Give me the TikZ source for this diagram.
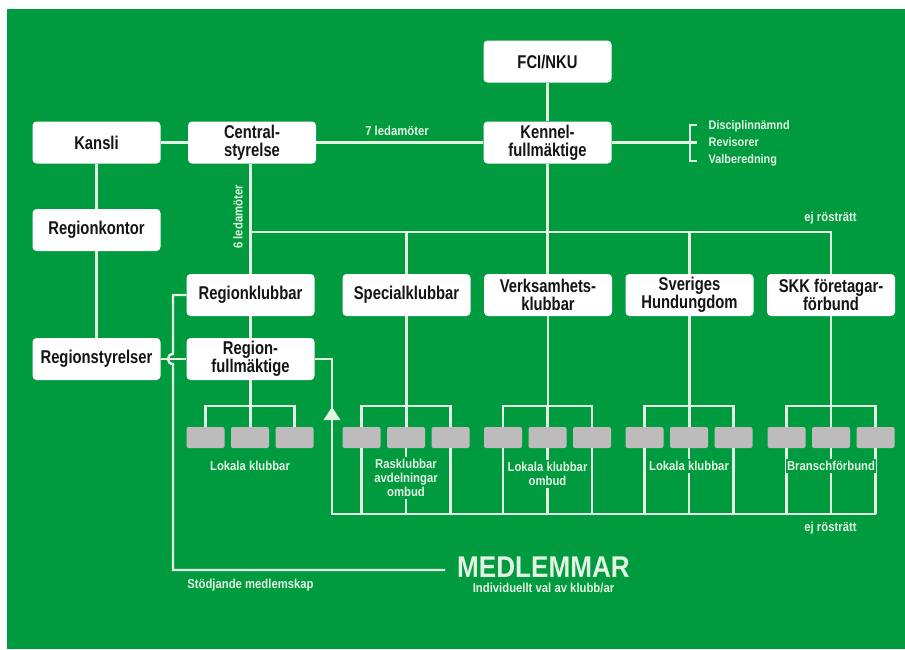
\documentclass[tikz,border=0pt]{standalone}
\usepackage{fontspec}
\setmainfont{Liberation Sans}[FakeStretch=0.87]
\newfontfamily\boxfont{Liberation Sans}[FakeStretch=0.80]
\definecolor{bg}{RGB}{0,155,62}
\definecolor{ln}{RGB}{228,242,228}
\definecolor{gb}{RGB}{190,187,189}
\definecolor{ink}{RGB}{20,20,20}
\begin{document}
\begin{tikzpicture}[x=1pt,y=-1pt,
  box/.style={fill=white, rounded corners=4pt, minimum width=128pt, minimum height=42pt,
    align=center, inner sep=0pt, text=ink, font=\boxfont\bfseries\fontsize{18.5}{18}\selectfont},
  gbox/.style={fill=gb, rounded corners=2pt, minimum width=38pt, minimum height=21pt, inner sep=0pt},
  wire/.style={draw=ln, line width=2.4pt},
  lbl/.style={text=ln, font=\bfseries\fontsize{13}{14}\selectfont, inner sep=0.5pt, align=center},
  slbl/.style={lbl, font=\bfseries\fontsize{12.5}{14}\selectfont, anchor=west},
  glbl/.style={lbl, fill=bg, inner xsep=1pt, inner ysep=2pt}
]
\useasboundingbox (0,0) rectangle (905,649);
\fill[white] (0,0) rectangle (905,649);
\fill[bg] (7,9) rectangle (905,649);

% main boxes
\node[box] (fci) at (547.5,61.5) {FCI/NKU};
\node[box] (kansli) at (96.5,142.5) {Kansli};
\node[box] (central) at (252,142.5) {Central-\\styrelse};
\node[box] (kennel) at (547.5,142.5) {Kennel-\\fullmäktige};
\node[box] (rkontor) at (96.5,230) {Regionkontor};
\node[box] (rstyr) at (96.5,359) {Regionstyrelser};
\node[box] (rklubb) at (250.5,295) {Regionklubbar};
\node[box] (rfull) at (250.5,359) {Region-\\fullmäktige};
\node[box] (spec) at (406.5,295) {Specialklubbar};
\node[box] (verk) at (548,295) {Verksamhets-\\klubbar};
\node[box] (shu) at (689.5,295) {Sveriges\\Hundungdom};
\node[box] (skk) at (831,295) {SKK företagar-\\förbund};

% grey boxes
\foreach \g/\cx in {a/250,b/406,c/547.5,d/689,e/831}{
  \node[gbox] (\g1) at (\cx-44.5,437.5) {};
  \node[gbox] (\g2) at (\cx,437.5) {};
  \node[gbox] (\g3) at (\cx+44.5,437.5) {};
  \draw[wire] (\g1.north) -- ++(0,-21) -| (\g3.north);
  \draw[wire] (\g2.north) -- ++(0,-21);
}

\coordinate (tb) at (0,232);
\coordinate (busL) at (332,514);

% top connectors
\draw[wire] (fci) -- (kennel);
\draw[wire] (kansli.east) -- (central.west);
\draw[wire] (central.east) -- (kennel.west);
\draw[wire] (kansli.south) -- (rkontor.north);
\draw[wire] (rkontor.south) -- (rstyr.north);
\draw[wire] (kennel.south) -- (kennel.south |- verk.north);
\draw[wire] (rklubb.north |- central.south) -- (rklubb.north);
\draw[wire] (rklubb.north |- tb) -- (skk.north |- tb) -- (skk.north);
\draw[wire] (spec.north |- tb) -- (spec.north);
\draw[wire] (shu.north |- tb) -- (shu.north);
\draw[wire] (rklubb.south) -- (rfull.north);

% group drops
\draw[wire] (rfull.south) -- (rfull.south |- a2.north);
\draw[wire] (spec.south) -- (spec.south |- b2.north);
\draw[wire] (verk.south) -- (verk.south |- c2.north);
\draw[wire] (shu.south) -- (shu.south |- d2.north);
\draw[wire] (skk.south) -- (skk.south |- e2.north);

% bracket to committees
\coordinate (bt) at (697,125);
\coordinate (bm) at (697,142.5);
\coordinate (bb) at (697,161);
\draw[wire] (kennel.east) -- (bm);
\draw[wire] (bt) -- ++(-7,0) |- (bb);
\node[slbl] (dis) at (708,126) {Disciplinnämnd};
\node[slbl] (rev) at (708,142.5) {Revisorer};
\node[slbl] (val) at (708,160) {Valberedning};

% bottom bus
\draw[wire] (rfull.east) -| (busL) -- (busL -| e3.south);
\foreach \g in {b,c,d,e}{
  \foreach \i in {1,2,3}{
    \draw[wire] (\g\i.south) -- (\g\i.south |- busL);
  }
}
\fill[ln] (332,407) -- (340.5,420) -- (323.5,420) -- cycle;

% regionstyrelser link and membership line
\draw[wire] (rstyr.east) -- (rfull.west);
\node[text=ln, font=\bfseries\fontsize{30}{32}\selectfont, inner xsep=12pt, inner ysep=0pt] (medl) at (543.5,567.5) {MEDLEMMAR};
\draw[wire] (rklubb.west) -- (173,295) -- (173,354)
  .. controls (166.3,354) and (166.3,364) .. (173,364) -- (173,570) -- (medl.west |- 0,570);

% labels
\node[lbl] (sju) at (397,131) {7 ledamöter};
\node[lbl, rotate=90] (sex) at (238,217) {6 ledamöter};
\node[lbl] (ej1) at (830.5,218) {ej rösträtt};
\node[lbl] (ej2) at (830.5,528) {ej rösträtt};
\node[glbl] (la) at (250,466) {Lokala klubbar};
\node[glbl] (lb) at (406,478) {Rasklubbar\\avdelningar\\ombud};
\node[glbl] (lc) at (547.5,474) {Lokala klubbar\\ombud};
\node[glbl] (ld) at (689,466) {Lokala klubbar};
\node[glbl] (le) at (831,466) {Branschförbund};
\node[lbl] (stod) at (250.5,585) {Stödjande medlemskap};
\node[lbl] (ind) at (543.5,588) {Individuellt val av klubb/ar};
\end{tikzpicture}
\end{document}
